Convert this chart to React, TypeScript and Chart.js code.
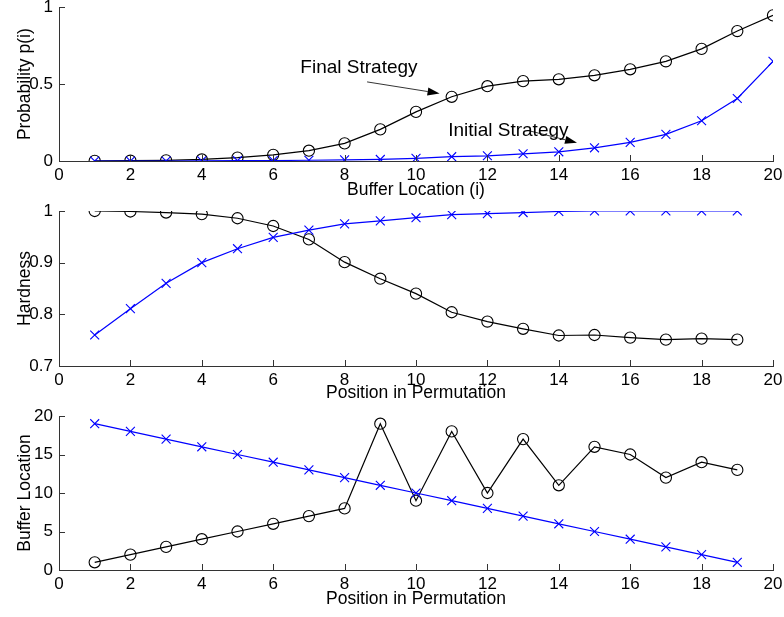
import React, { useEffect, useRef } from 'react';
import { Chart, registerables } from 'chart.js';

Chart.register(...registerables);

// ---------- data ----------
const bufferX = [1, 2, 3, 4, 5, 6, 7, 8, 9, 10, 11, 12, 13, 14, 15, 16, 17, 18, 19, 20];
const finalProb = [0.001, 0.002, 0.004, 0.01, 0.022, 0.04, 0.067, 0.115, 0.206, 0.32, 0.418, 0.487, 0.52, 0.532, 0.558, 0.597, 0.649, 0.73, 0.846, 0.948];
const initialProb = [0, 0, 0, 0.001, 0.002, 0.003, 0.005, 0.007, 0.01, 0.017, 0.028, 0.034, 0.047, 0.06, 0.086, 0.121, 0.173, 0.262, 0.407, 0.649];

const positionX = [1, 2, 3, 4, 5, 6, 7, 8, 9, 10, 11, 12, 13, 14, 15, 16, 17, 18, 19];
const finalHardness = [1.0, 0.999, 0.997, 0.994, 0.986, 0.971, 0.945, 0.901, 0.869, 0.84, 0.804, 0.786, 0.772, 0.759, 0.76, 0.755, 0.751, 0.753, 0.751];
const initialHardness = [0.76, 0.811, 0.86, 0.9, 0.927, 0.949, 0.963, 0.975, 0.981, 0.987, 0.993, 0.995, 0.997, 0.999, 1.0, 1.0, 1.0, 1.0, 1.0];

const finalBuffer = [1, 2, 3, 4, 5, 6, 7, 8, 19, 9, 18, 10, 17, 11, 16, 15, 12, 14, 13];
const initialBuffer = [19, 18, 17, 16, 15, 14, 13, 12, 11, 10, 9, 8, 7, 6, 5, 4, 3, 2, 1];

const xTicks = [0, 2, 4, 6, 8, 10, 12, 14, 16, 18, 20];
const probTicks = [0, 0.5, 1];
const hardTicks = [0.7, 0.8, 0.9, 1];
const bufTicks = [0, 5, 10, 15, 20];

const annotations = [
  { text: 'Final Strategy', tx: 6.76, ty: 0.575, from: [8.63, 0.515], to: [10.66, 0.44] },
  { text: 'Initial Strategy', tx: 10.9, ty: 0.164, from: [13.2, 0.195], to: [14.51, 0.119] },
];

// ---------- styling ----------
const W = 784;
const H = 617;
const FONT = "'Liberation Sans', Arial, Helvetica, sans-serif";
const AXIS = '#333333';
const BLUE = '#0000ff';

const pts = (xs: number[], ys: number[]) => xs.map((x, i) => ({ x, y: ys[i] }));

const innerTicks = {
  id: 'innerTicks',
  afterDraw(chart: any) {
    const { ctx, chartArea } = chart;
    const xs = chart.scales.x;
    const ys = chart.scales.y;
    ctx.save();
    ctx.strokeStyle = AXIS;
    ctx.lineWidth = 1;
    ctx.beginPath();
    xs.ticks.forEach((t: any) => {
      const px = Math.round(xs.getPixelForValue(t.value)) + 0.5;
      ctx.moveTo(px, chartArea.bottom);
      ctx.lineTo(px, chartArea.bottom - 6);
    });
    ys.ticks.forEach((t: any) => {
      const py = Math.round(ys.getPixelForValue(t.value)) + 0.5;
      ctx.moveTo(chartArea.left, py);
      ctx.lineTo(chartArea.left + 6, py);
    });
    ctx.stroke();
    ctx.restore();
  },
};

const arrowNotes = {
  id: 'arrowNotes',
  afterDatasetsDraw(chart: any, _args: any, opts: any) {
    if (!opts || !opts.items) return;
    const { ctx } = chart;
    const xs = chart.scales.x;
    const ys = chart.scales.y;
    ctx.save();
    opts.items.forEach((a: any) => {
      ctx.font = `19px ${FONT}`;
      ctx.fillStyle = '#000';
      ctx.textBaseline = 'alphabetic';
      ctx.textAlign = 'left';
      ctx.fillText(a.text, xs.getPixelForValue(a.tx), ys.getPixelForValue(a.ty));
      const x1 = xs.getPixelForValue(a.from[0]);
      const y1 = ys.getPixelForValue(a.from[1]);
      const x2 = xs.getPixelForValue(a.to[0]);
      const y2 = ys.getPixelForValue(a.to[1]);
      const ang = Math.atan2(y2 - y1, x2 - x1);
      const len = 12;
      const hw = 4;
      const bx = x2 - len * Math.cos(ang);
      const by = y2 - len * Math.sin(ang);
      ctx.strokeStyle = '#000';
      ctx.lineWidth = 0.8;
      ctx.beginPath();
      ctx.moveTo(x1, y1);
      ctx.lineTo(bx, by);
      ctx.stroke();
      ctx.beginPath();
      ctx.moveTo(x2, y2);
      ctx.lineTo(bx + hw * Math.sin(ang), by - hw * Math.cos(ang));
      ctx.lineTo(bx - hw * Math.sin(ang), by + hw * Math.cos(ang));
      ctx.closePath();
      ctx.fillStyle = '#000';
      ctx.fill();
    });
    ctx.restore();
  },
};

type Panel = {
  top: number;
  bottomPad: number;
  xAxisHeight: number;
  yMin: number;
  yMax: number;
  yTicks: number[];
  yTitle: string;
  xTitle: string;
  blue: { x: number; y: number }[];
  black: { x: number; y: number }[];
  notes?: any[];
};

function makeConfig(p: Panel): any {
  return {
    type: 'scatter',
    data: {
      datasets: [
        {
          data: p.blue,
          showLine: true,
          borderColor: BLUE,
          borderWidth: 1.2,
          pointStyle: 'crossRot',
          pointRadius: 6.3,
          pointBorderColor: BLUE,
          pointBorderWidth: 1.1,
          pointBackgroundColor: 'rgba(0,0,0,0)',
        },
        {
          data: p.black,
          showLine: true,
          borderColor: '#000',
          borderWidth: 1.2,
          pointStyle: 'circle',
          pointRadius: 5.6,
          pointBorderColor: '#000',
          pointBorderWidth: 1.1,
          pointBackgroundColor: 'rgba(0,0,0,0)',
        },
      ],
    },
    options: {
      responsive: false,
      animation: false,
      devicePixelRatio: 1,
      events: [],
      layout: { padding: { left: 0, right: 11, top: p.top, bottom: p.bottomPad } },
      plugins: {
        legend: { display: false },
        tooltip: { enabled: false },
        arrowNotes: { items: p.notes || null },
      },
      scales: {
        x: {
          type: 'linear',
          min: 0,
          max: 20,
          grid: { display: false, drawTicks: false },
          border: { display: true, color: AXIS, width: 1 },
          afterBuildTicks: (s: any) => {
            s.ticks = xTicks.map((v) => ({ value: v }));
          },
          afterFit: (s: any) => {
            s.height = p.xAxisHeight;
            s.paddingLeft = 0;
            s.paddingRight = 0;
          },
          ticks: {
            autoSkip: false,
            maxRotation: 0,
            padding: 4,
            color: '#000',
            font: { family: FONT, size: 17 },
            callback: (v: any) => String(v),
          },
          title: {
            display: true,
            text: p.xTitle,
            color: '#000',
            font: { family: FONT, size: 17.5 },
            padding: { top: 0, bottom: 0 },
          },
        },
        y: {
          type: 'linear',
          min: p.yMin,
          max: p.yMax,
          grid: { display: false, drawTicks: false },
          border: { display: true, color: AXIS, width: 1 },
          afterBuildTicks: (s: any) => {
            s.ticks = p.yTicks.map((v) => ({ value: v }));
          },
          afterFit: (s: any) => {
            s.width = 59;
            s.paddingTop = 0;
            s.paddingBottom = 0;
          },
          ticks: {
            padding: 6,
            color: '#000',
            font: { family: FONT, size: 17 },
            callback: (v: any) => String(Math.round(v * 1000) / 1000),
          },
          title: {
            display: true,
            text: p.yTitle,
            color: '#000',
            font: { family: FONT, size: 17.5 },
            padding: { top: 15, bottom: 0 },
          },
        },
      },
    },
    plugins: [innerTicks, arrowNotes],
  };
}

const panels: Panel[] = [
  {
    top: 7,
    bottomPad: H - 161 - 40,
    xAxisHeight: 40,
    yMin: 0,
    yMax: 1,
    yTicks: probTicks,
    yTitle: 'Probability p(i)',
    xTitle: 'Buffer Location (i)',
    blue: pts(bufferX, initialProb),
    black: pts(bufferX, finalProb),
    notes: annotations,
  },
  {
    top: 211,
    bottomPad: H - 366 - 38,
    xAxisHeight: 38,
    yMin: 0.7,
    yMax: 1,
    yTicks: hardTicks,
    yTitle: 'Hardness',
    xTitle: 'Position in Permutation',
    blue: pts(positionX, initialHardness),
    black: pts(positionX, finalHardness),
  },
  {
    top: 416,
    bottomPad: H - 570 - 40,
    xAxisHeight: 40,
    yMin: 0,
    yMax: 20,
    yTicks: bufTicks,
    yTitle: 'Buffer Location',
    xTitle: 'Position in Permutation',
    blue: pts(positionX, initialBuffer),
    black: pts(positionX, finalBuffer),
  },
];

function PanelCanvas({ panel }: { panel: Panel }) {
  const ref = useRef<HTMLCanvasElement | null>(null);
  useEffect(() => {
    if (!ref.current) return;
    const chart = new Chart(ref.current, makeConfig(panel));
    return () => chart.destroy();
  }, [panel]);
  return (
    <canvas
      ref={ref}
      width={W}
      height={H}
      style={{ position: 'absolute', left: 0, top: 0, width: W, height: H, display: 'block' }}
    />
  );
}

export default function App() {
  return (
    <div style={{ position: 'absolute', left: 0, top: 0, width: W, height: H, background: '#fff', overflow: 'hidden' }}>
      {panels.map((p, i) => (
        <PanelCanvas key={i} panel={p} />
      ))}
    </div>
  );
}
